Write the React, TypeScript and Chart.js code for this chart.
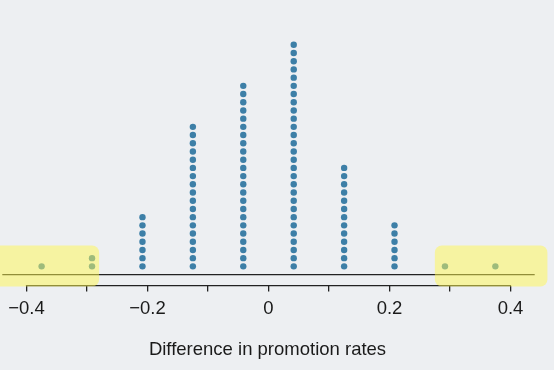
import React, { useEffect, useRef } from "react";
import { Chart, registerables } from "chart.js";

Chart.register(...registerables);

// Simulated differences (columns of the dot plot) and how many dots each holds
const columnValues = [-0.375, -0.2917, -0.2083, -0.125, -0.0417, 0.0417, 0.125, 0.2083, 0.2917, 0.375];
const columnCounts = [1, 2, 7, 18, 23, 28, 13, 6, 1, 1];

const tickValues = [-0.4, -0.3, -0.2, -0.1, 0, 0.1, 0.2, 0.3, 0.4];
const tickLabels = ["\u22120.4", "", "\u22120.2", "", "0", "", "0.2", "", "0.4"];
const axisTitle = "Difference in promotion rates";

// tail regions highlighted in yellow: [xFrom, xTo]
const highlightLeft = [-0.47, -0.28];
const highlightRight = [0.275, 0.461];

const FONT = "'Liberation Sans', Arial, Helvetica, sans-serif";

export default function App() {
  const ref = useRef<HTMLCanvasElement>(null);

  useEffect(() => {
    if (!ref.current) return;
    const points: { x: number; y: number }[] = [];
    columnValues.forEach((v, i) => {
      for (let k = 1; k <= columnCounts[i]; k++) points.push({ x: v, y: k });
    });

    const decor = {
      id: "decor",
      beforeDraw(chart: any) {
        const { ctx, width, height } = chart;
        ctx.save();
        ctx.fillStyle = "#edeff2";
        ctx.fillRect(0, 0, width, height);
        ctx.restore();
      },
      beforeDatasetsDraw(chart: any) {
        const { ctx, chartArea } = chart;
        const xs = chart.scales.x;
        const ys = chart.scales.y;
        ctx.save();
        ctx.strokeStyle = "#222";
        ctx.lineWidth = 1.3;
        // dot baseline
        const y0 = ys.getPixelForValue(0);
        ctx.beginPath();
        ctx.moveTo(xs.getPixelForValue(-0.44), y0);
        ctx.lineTo(xs.getPixelForValue(0.44), y0);
        ctx.stroke();
        // axis segment
        ctx.beginPath();
        ctx.moveTo(xs.getPixelForValue(-0.4) - 0.6, chartArea.bottom);
        ctx.lineTo(xs.getPixelForValue(0.4) + 0.6, chartArea.bottom);
        ctx.stroke();
        ctx.restore();
      },
      afterDraw(chart: any) {
        const { ctx } = chart;
        const xs = chart.scales.x;
        const ys = chart.scales.y;
        const top = ys.getPixelForValue(3.55);
        const bottom = ys.getPixelForValue(-1.45);
        ctx.save();
        ctx.fillStyle = "rgba(255, 248, 80, 0.5)";
        [highlightLeft, highlightRight].forEach(([a, b]) => {
          const l = xs.getPixelForValue(a);
          const r = xs.getPixelForValue(b);
          ctx.beginPath();
          (ctx as any).roundRect(l, top, r - l, bottom - top, 7);
          ctx.fill();
        });
        ctx.restore();
      },
    };

    const chart = new Chart(ref.current, {
      type: "scatter",
      data: {
        datasets: [
          {
            data: points,
            backgroundColor: "#3d7fa7",
            borderWidth: 0,
            pointRadius: 3.2,
            pointHoverRadius: 3.2,
          },
        ],
      },
      options: {
        animation: false,
        responsive: false,
        devicePixelRatio: 1,
        layout: { autoPadding: false, padding: { left: 0, right: 19, top: 0, bottom: 5 } },
        plugins: { legend: { display: false }, tooltip: { enabled: false } },
        scales: {
          x: {
            type: "linear",
            min: -0.4438,
            max: 0.4405,
            afterBuildTicks: (scale: any) => {
              scale.ticks = tickValues.map((v) => ({ value: v }));
            },
            ticks: {
              autoSkip: false,
              maxRotation: 0,
              padding: 6,
              color: "#1a1a1a",
              font: { family: FONT, size: 18.5 },
              callback: (_v: any, i: number) => tickLabels[i],
            },
            grid: {
              display: true,
              drawOnChartArea: false,
              drawTicks: true,
              tickLength: 6,
              color: "#222",
              lineWidth: 1.3,
            },
            border: { display: false },
            title: {
              display: true,
              text: axisTitle,
              color: "#1a1a1a",
              font: { family: FONT, size: 18.5 },
              padding: { top: 13, bottom: 4 },
            },
          },
          y: {
            display: false,
            min: -1.343,
            max: 33.46,
          },
        },
      },
      plugins: [decor],
    });
    return () => chart.destroy();
  }, []);

  return (
    <div style={{ position: "absolute", left: 0, top: 0, width: 554, height: 370 }}>
      <canvas ref={ref} width={554} height={370} />
    </div>
  );
}
